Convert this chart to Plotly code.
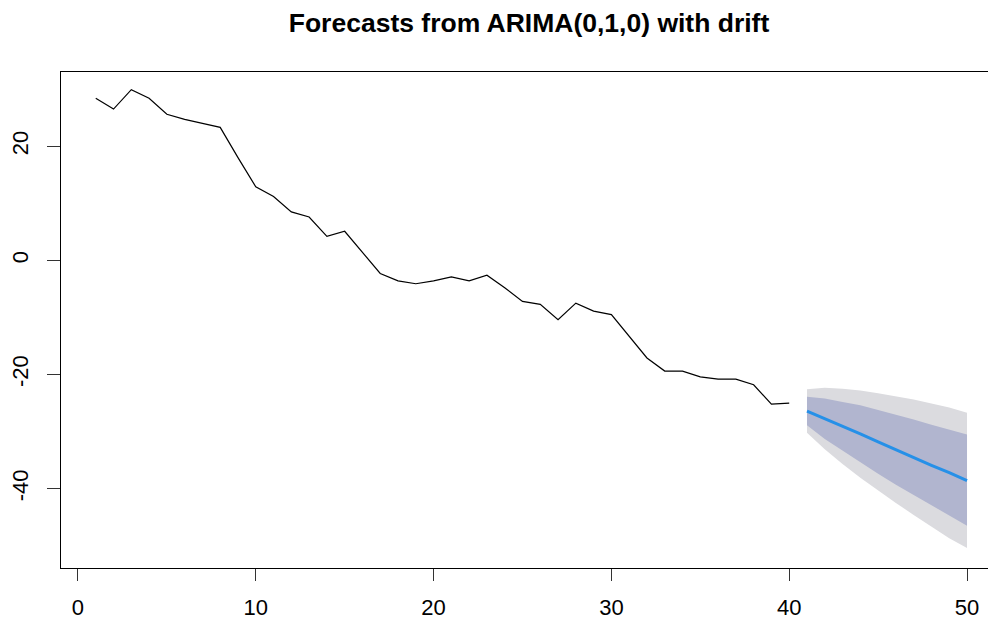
import plotly.graph_objects as go

# Historical series (t = 1..40)
hist_t = list(range(1, 41))
hist_y = [28.4, 26.5, 29.9, 28.4, 25.6, 24.7, 24.0, 23.3, 18.0, 12.9,
          11.2, 8.5, 7.6, 4.2, 5.1, 1.4, -2.3, -3.6, -4.1, -3.6,
          -2.9, -3.6, -2.6, -4.8, -7.2, -7.7, -10.4, -7.5, -8.9, -9.5,
          -13.4, -17.1, -19.4, -19.4, -20.4, -20.8, -20.8, -21.8, -25.2, -25.0]

# Forecast (t = 41..50)
fc_t = list(range(41, 51))
fc_mean = [-26.4, -27.7, -29.1, -30.4, -31.8, -33.2, -34.5, -35.9, -37.2, -38.6]
lo80 = [-28.9, -31.3, -33.4, -35.4, -37.4, -39.3, -41.1, -43.0, -44.7, -46.5]
hi80 = [-23.9, -24.2, -24.8, -25.4, -26.2, -27.0, -27.9, -28.8, -29.7, -30.5]
lo95 = [-30.2, -33.1, -35.7, -38.1, -40.3, -42.5, -44.6, -46.7, -48.7, -50.4]
hi95 = [-22.6, -22.3, -22.5, -22.8, -23.3, -23.8, -24.4, -25.1, -25.8, -26.7]

x_ticks = [0, 10, 20, 30, 40, 50]
y_ticks = [-40, -20, 0, 20]
title_text = "Forecasts from ARIMA(0,1,0) with drift"

FONT = "Liberation Sans, Arial, sans-serif"

# The page body adds an 8px margin, so the figure is 8px smaller and offsets compensate.
W, H = 988, 615

fig = go.Figure()

fig.add_trace(go.Scatter(
    x=fc_t + fc_t[::-1], y=hi95 + lo95[::-1],
    fill="toself", fillcolor="#DBDBDF", line=dict(width=0),
    mode="lines", hoverinfo="skip", showlegend=False))
fig.add_trace(go.Scatter(
    x=fc_t + fc_t[::-1], y=hi80 + lo80[::-1],
    fill="toself", fillcolor="#B1B5CF", line=dict(width=0),
    mode="lines", hoverinfo="skip", showlegend=False))
fig.add_trace(go.Scatter(
    x=hist_t, y=hist_y, mode="lines",
    line=dict(color="black", width=1.2), showlegend=False))
fig.add_trace(go.Scatter(
    x=fc_t, y=fc_mean, mode="lines",
    line=dict(color="#2690E8", width=3), showlegend=False))

fig.update_layout(
    width=W, height=H, autosize=False,
    margin=dict(l=51, r=0, t=64, b=55, pad=0),
    paper_bgcolor="white", plot_bgcolor="white",
    font=dict(family=FONT, color="black"),
    title=dict(text="<b>" + title_text + "</b>", x=521 / W, xanchor="center",
               xref="container", yref="container", y=1 - 15 / H, yanchor="middle",
               font=dict(size=26.5, family=FONT, color="black")),
)

fig.update_xaxes(
    range=[-0.954, 51.63], tickvals=x_ticks, ticktext=[str(v) for v in x_ticks],
    showgrid=False, zeroline=False, showline=True, mirror=True,
    linecolor="black", linewidth=1, ticks="outside", ticklen=12,
    tickcolor="#333333", tickwidth=1, tickfont=dict(size=22, family=FONT, color="black"),
    ticklabelstandoff=8)
fig.update_yaxes(
    range=[-53.9, 33.0], tickvals=y_ticks, ticktext=[str(v) for v in y_ticks],
    showgrid=False, zeroline=False, showline=True, mirror=False,
    linecolor="black", linewidth=1, ticks="outside", ticklen=13,
    tickcolor="#333333", tickwidth=1, tickangle=-90,
    tickfont=dict(size=22, family=FONT, color="black"),
    ticklabelstandoff=10)

fig.write_html("out.html")
